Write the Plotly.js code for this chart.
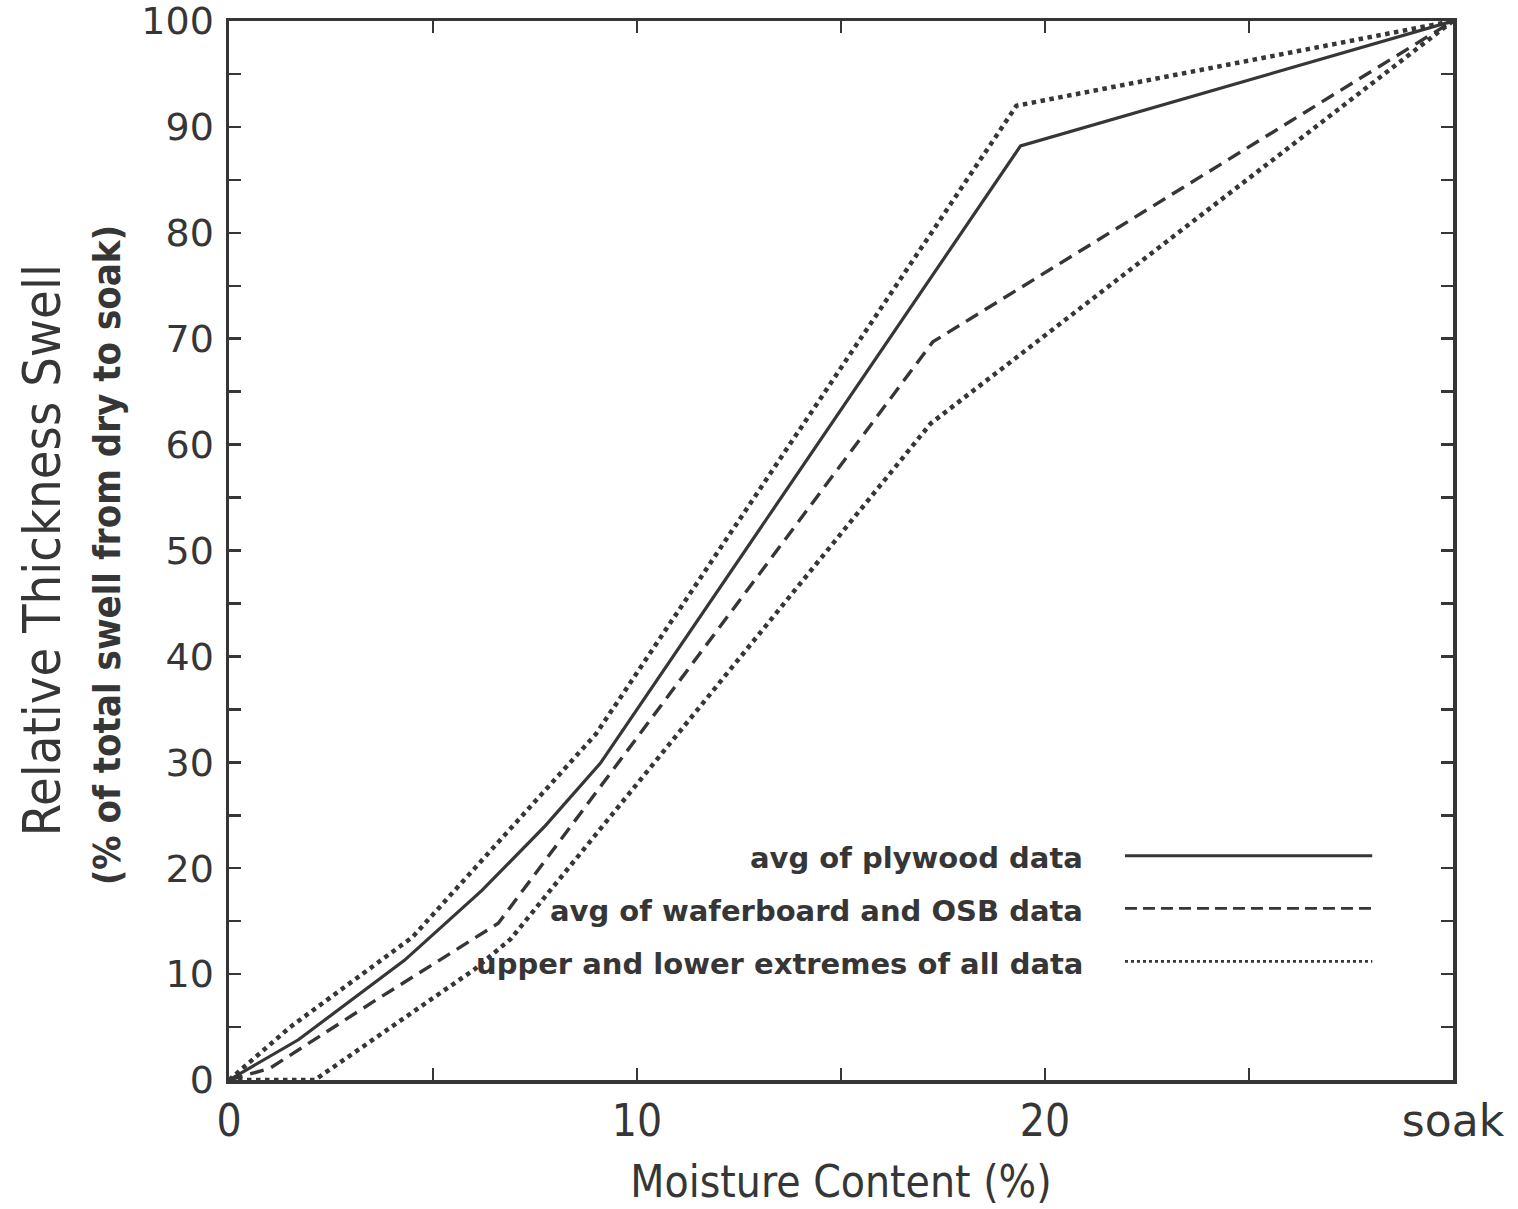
<!DOCTYPE html>
<html>
<head>
<meta charset="utf-8">
<script src="https://cdn.plot.ly/plotly-3.0.1.min.js"></script>
<style>html,body{margin:0;padding:0;background:#fff;}#chart{width:1518px;height:1209px;}</style>
</head>
<body>
<div id="chart"></div>
<script>
// Moisture content (%), "soak" plotted at 30
const plywoodX = [0, 1.7, 4.3, 6.2, 7.75, 9.1, 19.4, 30];
const plywoodY = [0, 3.8, 11.3, 17.9, 24.0, 29.9, 88.2, 100];

const waferX = [0, 1.0, 3.5, 6.6, 17.25, 30];
const waferY = [0, 1.1, 7.3, 14.8, 69.7, 100];

const upperX = [0, 1.5, 4.5, 9.0, 19.3, 30];
const upperY = [0, 5.0, 13.5, 32.7, 92.0, 100];

const lowerX = [0, 2.1, 6.0, 6.9, 17.2, 30];
const lowerY = [0, 0, 10.4, 13.3, 62.0, 100];

const xTickVals = [0, 5, 10, 15, 20, 25, 30];
const xTickText = ['0', '', '10', '', '20', '', '<span style="font-family:DejaVu Sans">soak</span>'];
const yTickVals = [0, 5, 10, 15, 20, 25, 30, 35, 40, 45, 50, 55, 60, 65, 70, 75, 80, 85, 90, 95, 100];
const yTickText = yTickVals.map(v => (v % 10 === 0 ? String(v) : ''));

const legendLabels = ['avg of plywood data', 'avg of waferboard and OSB data', 'upper and lower extremes of all data'];
const legendDashes = ['solid', '12px,6px', '3px,3px'];

const ink = '#363636';

const traces = [
  {x: plywoodX, y: plywoodY, mode: 'lines', line: {color: ink, width: 3.2, dash: 'solid'}, showlegend: false, name: legendLabels[0]},
  {x: waferX, y: waferY, mode: 'lines', line: {color: ink, width: 3.4, dash: '14px,8px'}, showlegend: false, name: legendLabels[1]},
  {x: upperX, y: upperY, mode: 'lines', line: {color: ink, width: 4.5, dash: '4.5px,4.5px'}, showlegend: false, name: legendLabels[2]},
  {x: lowerX, y: lowerY, mode: 'lines', line: {color: ink, width: 4.5, dash: '4.5px,4.5px'}, showlegend: false, name: legendLabels[2]}
];

const legendRowsY = [0.2098, 0.160, 0.110];
const annotations = [];
const shapes = [];
legendLabels.forEach((t, i) => {
  annotations.push({
    xref: 'paper', yref: 'paper', x: 0.699, y: legendRowsY[i],
    xanchor: 'right', yanchor: 'middle', showarrow: false, text: t,
    font: {family: 'DejaVu Sans', size: 29, color: ink, weight: 'bold'}
  });
  shapes.push({
    type: 'line', xref: 'paper', yref: 'paper',
    x0: 0.732, x1: 0.934, y0: legendRowsY[i] + 0.002, y1: legendRowsY[i] + 0.002,
    line: {color: ink, width: i === 0 ? 3 : 2.8, dash: legendDashes[i]}
  });
});

annotations.push({
  xref: 'paper', yref: 'paper', x: -0.153, y: 0.50, textangle: -90,
  xanchor: 'center', yanchor: 'middle', showarrow: false,
  text: 'Relative Thickness Swell',
  font: {family: 'Liberation Sans Narrow, DejaVu Sans Condensed, sans-serif', size: 52, color: ink}
});
annotations.push({
  xref: 'paper', yref: 'paper', x: -0.100, y: 0.496, textangle: -90,
  xanchor: 'center', yanchor: 'middle', showarrow: false,
  text: '(% of total swell from dry to soak)',
  font: {family: 'DejaVu Sans Condensed, Liberation Sans Narrow, sans-serif', size: 38, color: ink, weight: 'bold'}
});

const layout = {
  width: 1518, height: 1209,
  margin: {l: 229, r: 65, t: 21, b: 129},
  paper_bgcolor: '#fff', plot_bgcolor: '#fff',
  showlegend: false,
  xaxis: {
    range: [0, 30], tickvals: xTickVals, ticktext: xTickText,
    ticks: 'inside', ticklen: 12, tickwidth: 2.5, tickcolor: ink,
    showline: true, linecolor: ink, linewidth: 3.5, mirror: 'ticks',
    showgrid: false, zeroline: false, ticklabeloverflow: 'allow',
    tickfont: {family: 'Liberation Sans Narrow, DejaVu Sans Condensed, sans-serif', size: 44, color: ink},
    title: {text: 'Moisture Content (%)', standoff: 22,
            font: {family: 'Liberation Sans Narrow, DejaVu Sans Condensed, sans-serif', size: 44, color: ink}}
  },
  yaxis: {
    range: [0, 100], tickvals: yTickVals, ticktext: yTickText,
    ticks: 'inside', ticklen: 12, tickwidth: 2.5, tickcolor: ink,
    showline: true, linecolor: ink, linewidth: 3.5, mirror: 'ticks',
    showgrid: false, zeroline: false, ticklabeloverflow: 'allow',
    ticklabelstandoff: 4,
    tickfont: {family: 'DejaVu Sans', size: 38, color: ink}
  },
  annotations: annotations,
  shapes: shapes
};

Plotly.newPlot('chart', traces, layout, {displayModeBar: false, staticPlot: true});
</script>
</body>
</html>
